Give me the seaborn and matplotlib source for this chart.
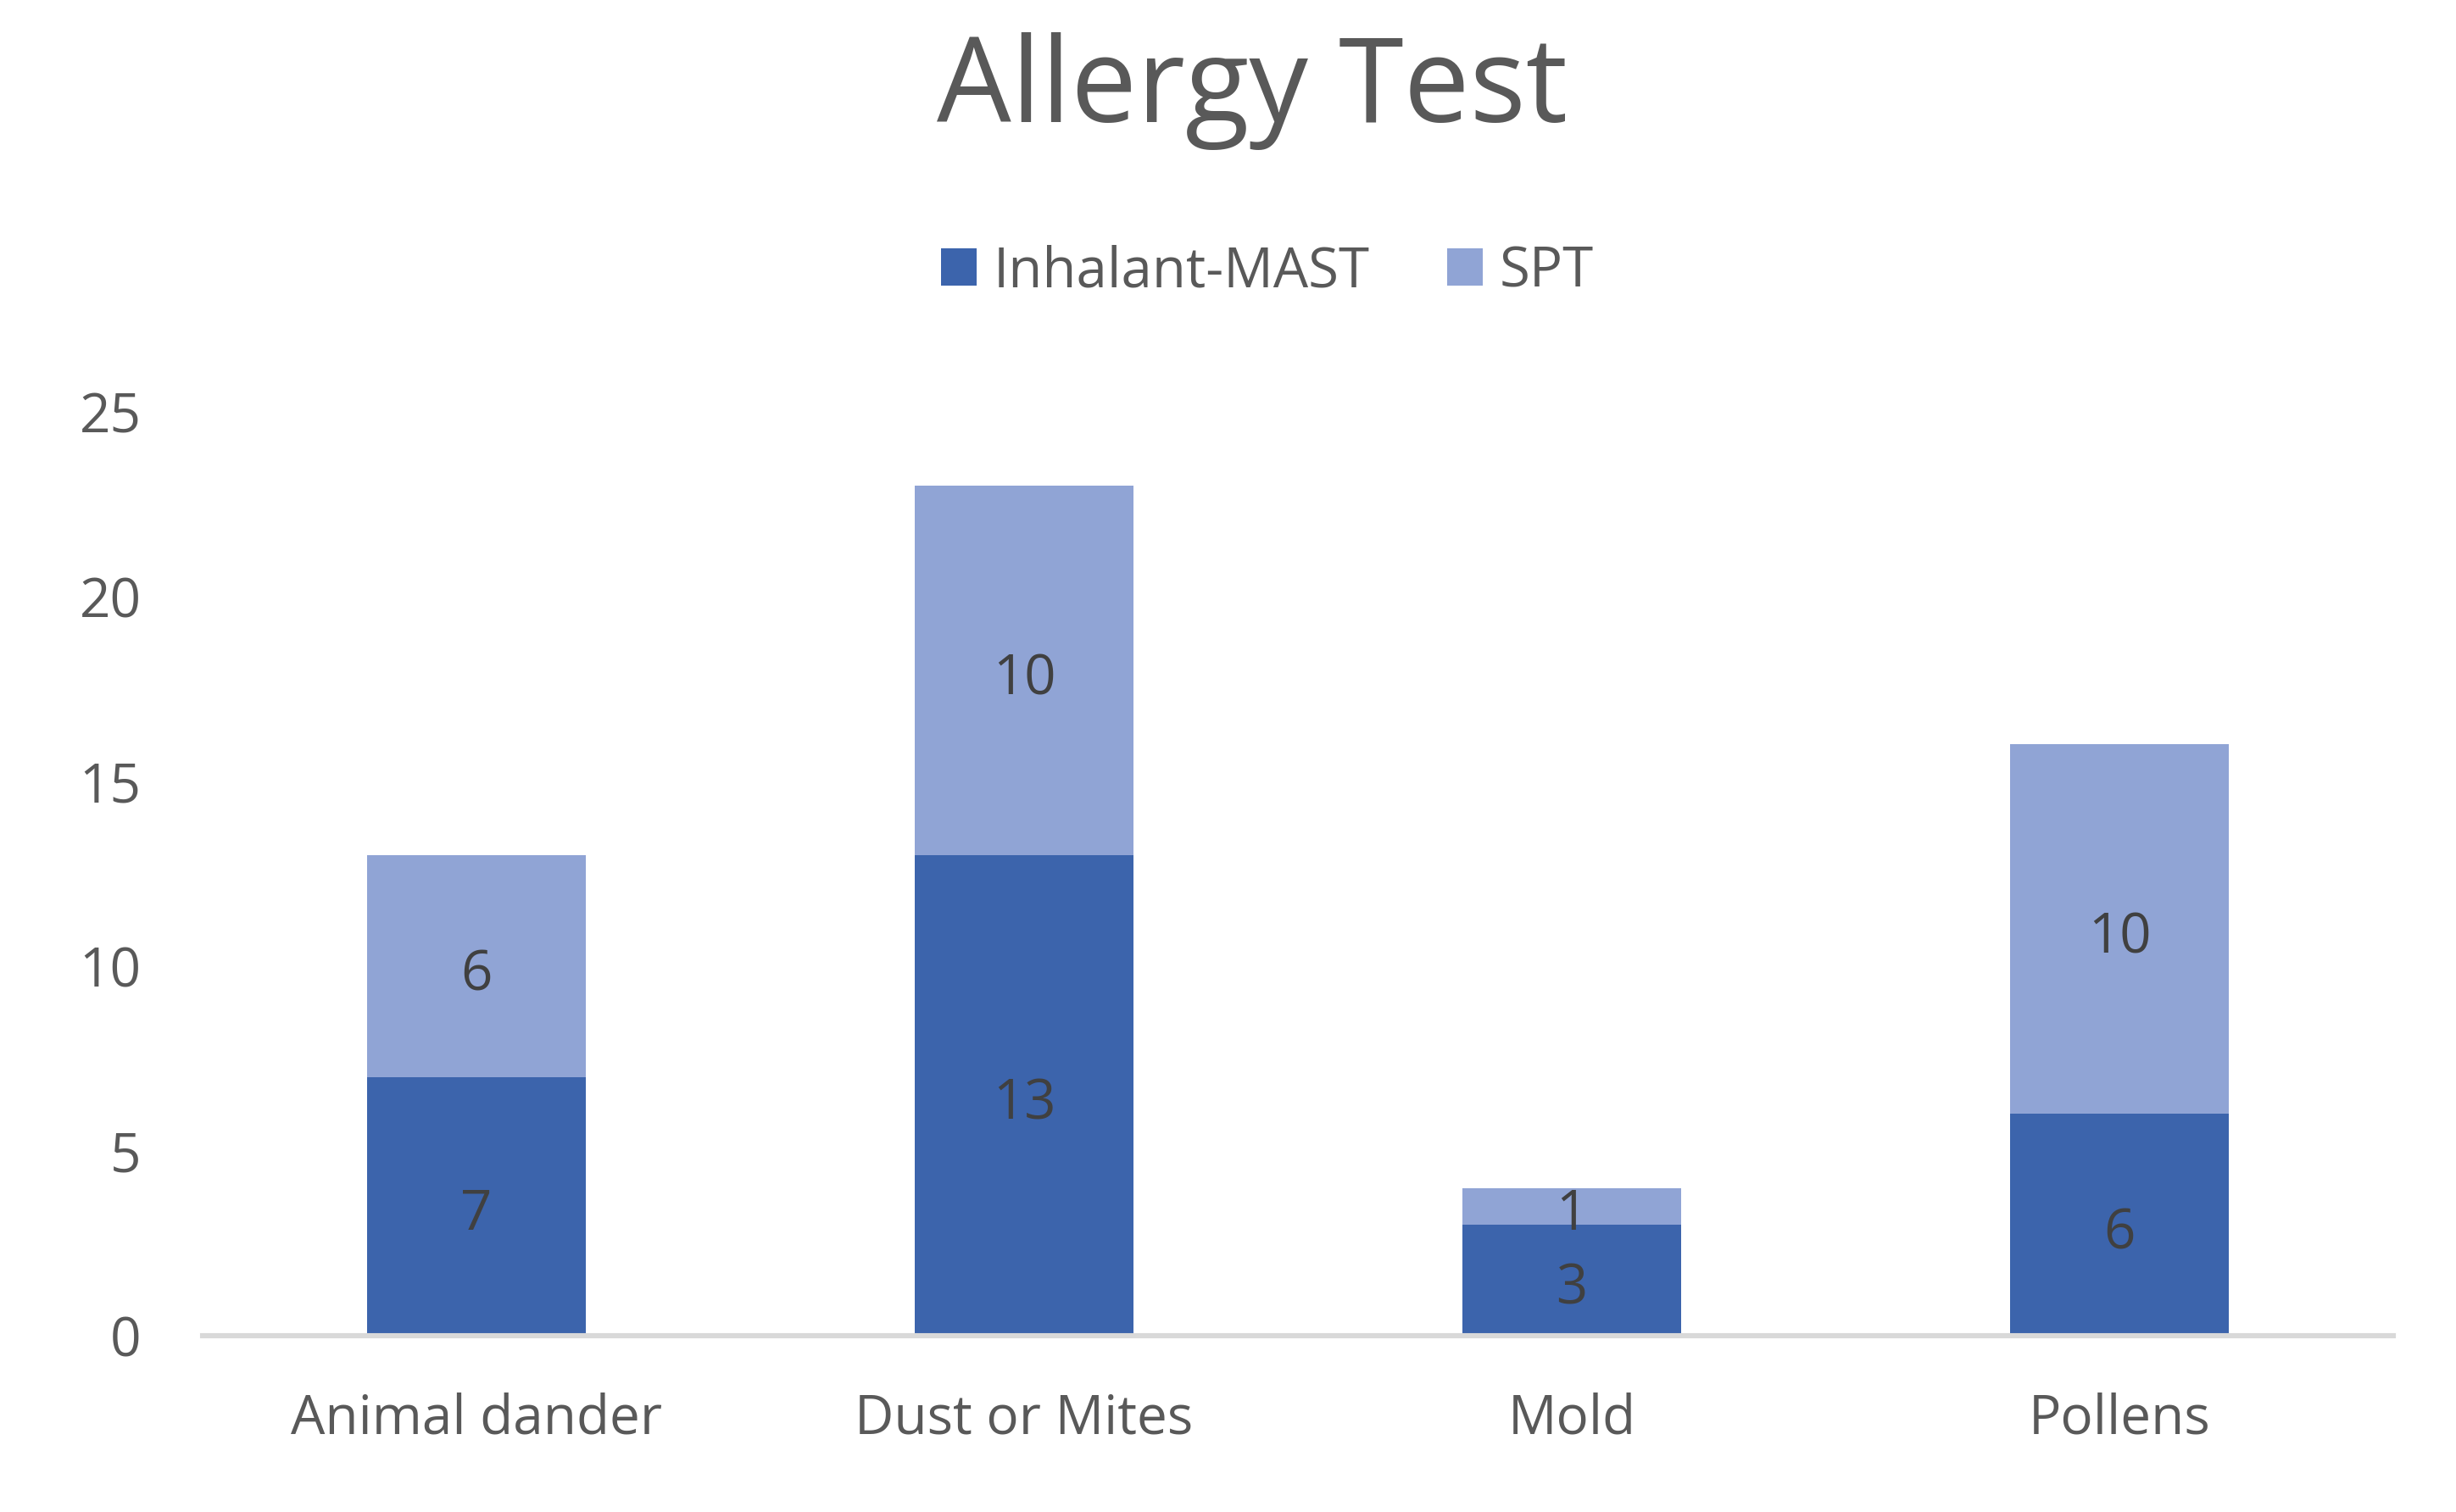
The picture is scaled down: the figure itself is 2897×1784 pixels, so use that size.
import matplotlib
matplotlib.use("Agg")
import matplotlib.pyplot as plt
import seaborn as sns
import pandas as pd
from matplotlib.patches import Patch

categories = ["Animal dander", "Dust or Mites", "Mold", "Pollens"]
inhalant_mast = [7, 13, 3, 6]
spt = [6, 10, 1, 10]
series_names = ["Inhalant-MAST", "SPT"]
yticks = [0, 5, 10, 15, 20, 25]

dark = "#3C64AC"
light = "#90A4D5"
text_col = "#595959"
label_col = "#404040"

sns.set_theme(style="white")
plt.rcParams['font.family'] = ['Open Sans', 'DejaVu Sans']

df = pd.DataFrame({"cat": categories, "mast": inhalant_mast, "spt": spt})
df["total"] = df["mast"] + df["spt"]

fig = plt.figure(figsize=(2897/200, 1784/200), dpi=200)
ax = fig.add_axes([0.0825, 0.1166, 0.892, 0.611])

sns.barplot(data=df, x="cat", y="total", color=light, width=0.4, ax=ax,
            saturation=1, edgecolor="none", linewidth=0)
sns.barplot(data=df, x="cat", y="mast", color=dark, width=0.4, ax=ax,
            saturation=1, edgecolor="none", linewidth=0)

for i, (m, s) in enumerate(zip(df["mast"], df["spt"])):
    for val, ypos in ((m, m / 2), (s, m + s / 2)):
        ax.annotate(str(val), xy=(i, ypos), xytext=(0, -4), textcoords="offset points",
                    ha="center", va="center", fontsize=23.5, color=label_col)

ax.set_xlim(-0.5, 3.5)
ax.set_ylim(0, 25)
ax.set_yticks(yticks)
ax.set_yticklabels([str(t) for t in yticks])
ax.set_xlabel("")
ax.set_ylabel("")
ax.tick_params(axis="both", length=0, labelsize=23, colors=text_col)
ax.tick_params(axis="y", pad=26)
ax.tick_params(axis="x", pad=24)
for sp in ["top", "right", "left"]:
    ax.spines[sp].set_visible(False)
ax.spines["bottom"].set_color("#D9D9D9")
ax.spines["bottom"].set_linewidth(2.2)

fig.text(0.51, 0.94, "Allergy Test", ha="center", va="center", fontsize=50, color=text_col)

handles = [Patch(facecolor=dark, edgecolor="none"), Patch(facecolor=light, edgecolor="none")]
fig.legend(handles, series_names, loc="center", bbox_to_anchor=(0.516, 0.82), ncol=2,
           frameon=False, fontsize=23.5, labelcolor=text_col, handlelength=0.65,
           handleheight=0.65, handletextpad=0.3, columnspacing=1.4)

fig.savefig("out.png", dpi=200)
